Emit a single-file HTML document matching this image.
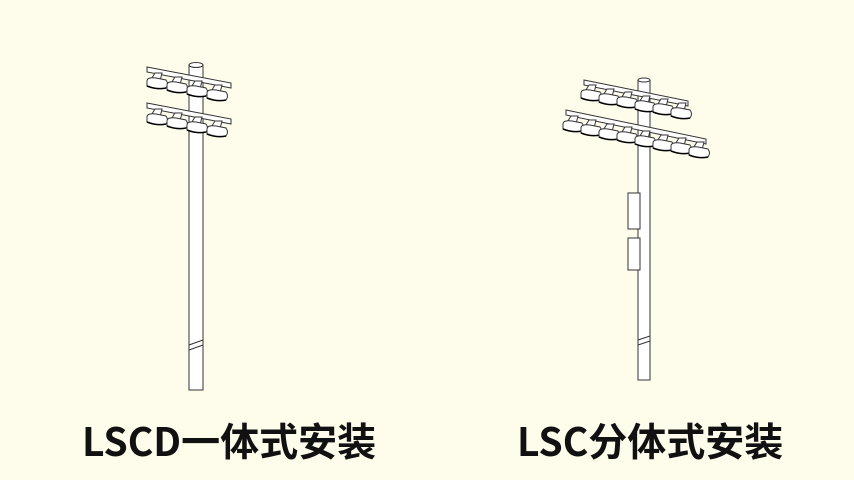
<!DOCTYPE html>
<html><head><meta charset="utf-8"><style>
html,body{margin:0;padding:0;width:854px;height:480px;background:#fefdec;overflow:hidden}
.t{position:absolute;top:412px;font:bold 39px "Noto Sans CJK SC",sans-serif;line-height:56px;color:#111;white-space:nowrap}
</style></head><body>
<svg width="854" height="480" style="position:absolute;left:0;top:0" fill="none" stroke="#333" stroke-width="1">
<defs>
<g id="lamp">
<path d="M-8,3 L-3,-5 L4,-5 L2,3" fill="#fff"/>
<path d="M-11,3 Q-11,-1 -2,0 L8,2 Q11,6 8,10 Q-1,12 -11,8 Z" fill="#fff"/>
<path d="M-11,8 Q-1,12 8,10" stroke="#000" stroke-width="1.5"/>
</g>
</defs>
<path d="M189,65 L189,390 L203,390 L203,65" fill="#fff"/>
<ellipse cx="196" cy="65" rx="7" ry="2.5" fill="#fff"/>
<path d="M189,345 L203,340 M189,350 L203,345" />
<g>
<path d="M147,67 L231,83 L231,88 L147,72 Z" fill="#fff"/>
<use href="#lamp" x="158" y="78"/><use href="#lamp" x="178" y="82"/><use href="#lamp" x="198" y="86"/><use href="#lamp" x="218" y="90"/>
<path d="M147,103 L231,119 L231,124 L147,108 Z" fill="#fff"/>
<use href="#lamp" x="158" y="114"/><use href="#lamp" x="178" y="118"/><use href="#lamp" x="198" y="122"/><use href="#lamp" x="218" y="126"/>
</g>
<path d="M638,80 L638,380 L650,380 L650,80" fill="#fff"/>
<ellipse cx="644" cy="80" rx="6" ry="2" fill="#fff"/>
<path d="M638,340 L650,336 M638,345 L650,341"/>
<rect x="628" y="193" width="12" height="36" fill="#fff"/>
<rect x="628" y="238" width="12" height="32" fill="#fff"/>
<path d="M584,80 L688,101 L688,106 L584,85 Z" fill="#fff"/>
<use href="#lamp" x="592" y="90"/><use href="#lamp" x="610" y="94"/><use href="#lamp" x="628" y="97"/><use href="#lamp" x="646" y="101"/><use href="#lamp" x="664" y="104"/><use href="#lamp" x="682" y="108"/>
<path d="M566,110 L706,139 L706,144 L566,115 Z" fill="#fff"/>
<use href="#lamp" x="574" y="121"/><use href="#lamp" x="592" y="125"/><use href="#lamp" x="610" y="129"/><use href="#lamp" x="628" y="132"/><use href="#lamp" x="646" y="136"/><use href="#lamp" x="664" y="140"/><use href="#lamp" x="682" y="143"/><use href="#lamp" x="700" y="147"/>
</svg>
<div class="t" style="left:82px">LSCD一体式安装</div>
<div class="t" style="left:517px">LSC分体式安装</div>
</body></html>
